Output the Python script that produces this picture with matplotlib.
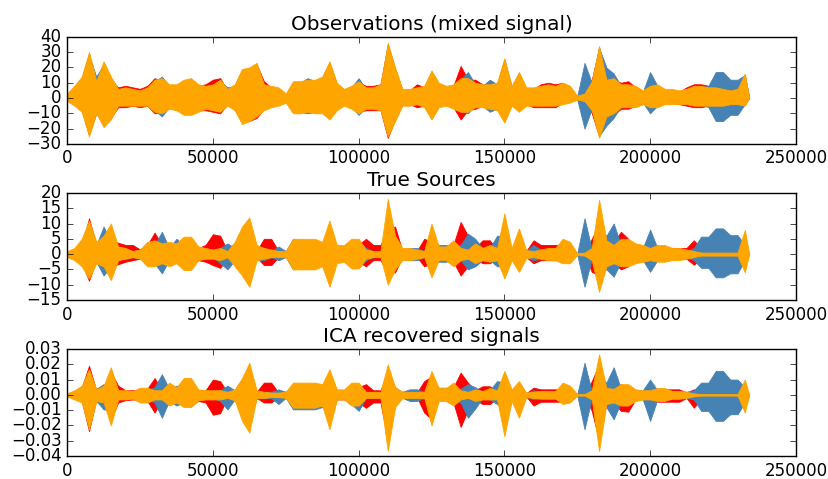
import numpy as np
import matplotlib
matplotlib.use('Agg')
import matplotlib.pyplot as plt

# sample index of every envelope reading (one reading each 2500 samples, signal ends at 234000)
samples = np.append(np.arange(94) * 2500, 234000)

# --- Observations (mixed signal): upper / lower envelope per channel ---
obs_org_hi = [3, 8, 14, 30, 11, 24, 14, 6, 7, 6,
              5, 7, 12, 13, 9, 9, 12, 13, 9, 8,
              9, 12, 6, 9, 19, 20, 23, 9, 8, 7,
              3, 11, 11, 12, 12, 14, 24, 10, 6, 8,
              11, 7, 7, 9, 36, 20, 6, 6, 7, 8,
              18, 10, 8, 9, 13, 13, 10, 9, 9, 10,
              26, 8, 17, 7, 7, 8, 9, 8, 10, 8,
              1.5, 3, 11, 34, 12, 13, 9, 9, 8, 5,
              8, 9, 6, 6, 5, 6, 8, 8, 7, 7,
              6, 5, 6, 16, 0]
obs_org_lo = [-2, -5, -9, -25, -10, -19, -14, -5, -5, -5,
              -5, -5, -9, -10, -7, -8, -11, -11, -9, -7,
              -8, -9, -5, -8, -17, -15, -12, -8, -6, -5,
              -3, -10, -10, -9, -10, -10, -14, -8, -5, -7,
              -10, -7, -7, -8, -25, -15, -5, -5, -4, -6,
              -14, -6, -5, -7, -9, -9, -6, -6, -7, -8,
              -16, -5, -9, -5, -5, -5, -5, -5, -4, -3,
              -1, -2, -8, -26, -12, -10, -6, -6, -6, -4,
              -6, -6, -4, -4, -4, -4, -5, -5, -5, -5,
              -5, -4, -4, -5, 0]
obs_red_hi = [2, 7, 13, 29, 10, 20, 12, 7, 8, 7,
              6, 8, 13, 11, 8, 8, 11, 12, 8, 9,
              12, 13, 5, 8, 18, 19, 22, 11, 7, 6,
              2, 10, 10, 11, 11, 13, 23, 9, 5, 7,
              10, 8, 8, 9, 35, 19, 5, 5, 9, 7,
              17, 9, 7, 8, 21, 12, 12, 9, 8, 9,
              25, 7, 16, 6, 6, 9, 10, 9, 10, 7,
              1, 2, 12, 33, 13, 12, 10, 11, 7, 4,
              7, 8, 5, 5, 4, 7, 9, 9, 8, 6,
              5, 4, 5, 15, 0]
obs_red_lo = [-1, -4, -8, -24, -9, -18, -13, -6, -6, -5,
              -6, -5, -10, -9, -6, -7, -10, -10, -8, -8,
              -9, -10, -4, -7, -16, -15, -13, -7, -5, -4,
              -2, -9, -9, -8, -9, -9, -13, -7, -4, -6,
              -9, -8, -8, -8, -26, -14, -4, -4, -6, -5,
              -13, -5, -4, -6, -14, -8, -7, -5, -6, -7,
              -15, -4, -8, -4, -6, -6, -6, -6, -3, -2,
              -1, -1, -10, -25, -13, -11, -7, -7, -5, -3,
              -5, -5, -3, -3, -4, -5, -6, -6, -5, -4,
              -4, -3, -3, -4, 0]
obs_blu_hi = [2, 7, 13, 28, 14, 22, 13, 5, 6, 5,
              4, 6, 11, 14, 8, 8, 11, 12, 8, 7,
              8, 11, 7, 8, 18, 19, 22, 8, 7, 6,
              2, 10, 10, 13, 11, 13, 23, 9, 5, 7,
              13, 6, 6, 8, 35, 19, 5, 5, 6, 7,
              17, 9, 7, 8, 12, 17, 9, 8, 12, 9,
              25, 7, 16, 6, 6, 7, 8, 7, 9, 7,
              1, 23, 10, 33, 20, 16, 8, 8, 7, 4,
              17, 8, 5, 5, 4, 5, 7, 7, 8, 17,
              17, 12, 12, 15, 0]
obs_blu_lo = [-1, -4, -8, -24, -10, -17, -13, -4, -4, -4,
              -4, -4, -8, -12, -6, -7, -10, -10, -8, -6,
              -7, -8, -4, -7, -16, -14, -11, -7, -5, -4,
              -2, -9, -9, -10, -9, -9, -13, -7, -4, -6,
              -11, -6, -6, -7, -24, -14, -4, -4, -3, -5,
              -13, -5, -4, -6, -8, -10, -5, -5, -9, -7,
              -15, -4, -8, -4, -4, -4, -4, -4, -3, -2,
              -1, -20, -7, -25, -18, -13, -5, -5, -5, -3,
              -10, -5, -3, -3, -3, -3, -4, -4, -6, -15,
              -15, -11, -11, -4, 0]

# --- True Sources ---
src_org_hi = [1, 2, 5, 11, 4, 6, 10, 2.5, 2, 1,
              1.5, 4, 4.5, 3.5, 4, 3.5, 5.7, 5.7, 2.5, 2,
              1.5, 2, 1, 4, 9, 12, 3, 2, 1.5, 1,
              1, 5, 5, 5, 5, 4, 11, 3, 3, 5,
              5, 1.5, 1, 1, 18, 6, 2, 2, 1.5, 1,
              10, 2.5, 2.5, 4.5, 2, 1.5, 3.5, 2, 3, 2,
              13.3, 2, 8.4, 1.3, 1, 1.5, 2, 2, 5, 4,
              0.3, 0.5, 2, 17.7, 4.5, 3, 5, 5, 3.5, 3,
              2, 3, 3, 2, 2, 1.5, 1, 0.5, 0.5, 0.5,
              0.5, 0.5, 0.5, 7.9, 0]
src_org_lo = [-1, -2, -4, -8, -3, -4, -8.5, -2, -1.5, -1,
              -1.5, -4, -4, -3, -4, -3, -5.2, -5.2, -2, -1.5,
              -1.5, -2, -1, -4, -7, -10.7, -2, -1.5, -1, -1,
              -1, -5, -5, -5, -5, -4, -10.7, -3, -2.5, -4.7,
              -4.7, -1.5, -1, -1, -10, -5, -2, -2, -1.5, -1,
              -7.6, -2, -2, -4, -2, -1.5, -3, -2, -2.5, -2,
              -8, -2, -5.8, -1.3, -1, -1.5, -2, -2, -3, -3,
              -0.3, -0.5, -2, -12.3, -4, -3, -4, -4, -3, -2.5,
              -2, -2.5, -2.5, -2, -2, -1.5, -1, -0.5, -0.5, -0.5,
              -0.5, -0.5, -0.5, -6, 0]
src_red_hi = [0.5, 1.5, 3, 11.7, 3, 3, 5, 3.7, 3, 3,
              1.5, 3, 7, 3, 2, 2, 3, 3, 2, 3,
              6.5, 6, 1, 3, 7.3, 6, 1, 5, 5, 1,
              0.5, 2, 3, 3, 3.5, 3, 7, 2, 2, 3,
              3, 5, 3, 3, 8, 9, 1, 1, 1, 5,
              4, 1.5, 1.5, 3, 10.5, 6, 2, 4.5, 4.5, 1.5,
              7, 1, 4, 1, 4.5, 3, 3, 3, 3, 2,
              0.2, 0.3, 5, 10, 3, 4, 7.3, 5, 2, 1.5,
              1.5, 2, 2, 2, 2, 2, 4.5, 2, 4, 1,
              0.5, 0.5, 0.5, 3, 0]
src_red_lo = [-0.5, -1.5, -3, -8.7, -2, -3, -4, -3.3, -2.5, -2,
              -1.5, -2, -3.3, -2, -2, -2, -3, -3, -2, -2.5,
              -3.6, -4.5, -1, -2.5, -4.7, -5, -1, -3.6, -3.6, -1,
              -0.5, -2, -2.5, -2.5, -3, -2.5, -6, -2, -1.5, -2.5,
              -2.5, -4, -2, -2, -6, -6, -1, -1, -1, -4,
              -3, -1.5, -1.5, -2.5, -7, -4, -1.5, -3, -3, -1.5,
              -5, -1, -3, -1, -3, -2, -2, -2, -2, -1.5,
              -0.2, -0.3, -5.8, -7, -2.5, -3, -5, -4, -1.5, -1.5,
              -1.5, -1.5, -1.5, -1.5, -1.5, -1.5, -3.5, -1.5, -2, -1,
              -0.5, -0.5, -0.5, -2, 0]
src_blu_hi = [0.5, 1.5, 2, 4, 3, 9, 4, 1.5, 1.5, 1,
              1.5, 2, 3, 7.3, 2, 5, 3, 3, 1.5, 1,
              1, 2, 3.5, 2, 3, 5, 2, 2, 1, 2.5,
              1, 5, 4.5, 4.5, 4.5, 3.5, 6, 2, 2, 3,
              4, 2, 1, 1, 6, 4, 1.5, 2, 2, 1,
              4, 3, 3, 2, 3, 6.7, 5, 2, 2, 6,
              6, 1.5, 4, 1, 3, 1.5, 1.5, 1.5, 2, 2,
              0.2, 11.7, 1.5, 8, 6, 10, 3, 3, 2, 2,
              8, 2, 1.5, 1.5, 1.5, 1, 2, 5.7, 5.7, 8.4,
              8.4, 6.2, 6.2, 3, 0]
src_blu_lo = [-0.5, -1.5, -2, -4, -2.5, -7, -4, -1.5, -1.5, -1,
              -1.5, -2, -3, -6.3, -2, -3, -3, -3, -1.5, -1,
              -1, -3, -5, -2, -3, -5, -2, -2, -1, -2,
              -1, -5, -4.5, -4.5, -4.5, -3.5, -5, -2, -2, -3,
              -4.5, -2, -1, -1, -5, -3, -1.5, -2, -2, -1,
              -3, -2.5, -2.5, -2, -2, -5, -4, -2, -2, -4,
              -4, -1.5, -3, -1, -2, -1.5, -1.5, -1.5, -1.5, -1.5,
              -0.2, -10.7, -1.5, -6, -5, -7.4, -2.5, -2.5, -2, -2,
              -5.8, -2, -1.5, -1.5, -1.5, -1, -2, -4.5, -4.5, -7.6,
              -7.6, -6.3, -6.3, -2, 0]

# --- ICA recovered signals, in thousandths ---
ica_org_hi = [1, 3, 6, 16.7, 3.6, 6, 18, 3, 3, 2.5,
              4.7, 4.7, 3, 3, 8, 5, 11, 11, 3.6, 3,
              3, 3, 2, 3.6, 11, 21, 3, 2, 1.5, 1.5,
              2, 8, 8, 8, 8, 7, 16.7, 3.6, 3.6, 8,
              8, 2, 2, 2, 20, 5, 2, 2, 2, 2,
              15.6, 4.5, 4.5, 8, 3, 2, 3.6, 2.5, 4.5, 3,
              15.6, 3.6, 9, 1.5, 2, 2.5, 2.5, 2.5, 8, 6,
              0.5, 0.5, 3, 26.5, 4.5, 4, 7, 7, 3.6, 3,
              3, 4.5, 4.5, 2.5, 2.5, 2, 1, 0.5, 0.5, 0.5,
              0.5, 0.5, 0.5, 10, 0]
ica_org_lo = [-1, -3, -5, -22.5, -4, -5, -20, -3, -3, -2.5,
              -5, -5, -3, -3, -7, -5, -8, -8, -3.6, -3,
              -3, -3, -2, -3.6, -17, -24.7, -2, -2, -1.5, -1.5,
              -2, -8.4, -8.4, -8.4, -8.4, -7, -22.5, -3, -3, -7,
              -7, -2, -2, -2, -36.7, -8, -2, -2, -2, -2,
              -20, -4, -4, -7, -3, -2, -4, -3, -3, -3,
              -27, -4, -15, -1.5, -2, -2.5, -2.5, -2.5, -6, -5,
              -0.5, -0.5, -3, -36.7, -6, -5, -7, -7, -4, -3,
              -3, -4, -4, -2.5, -2.5, -2, -1, -0.5, -0.5, -0.5,
              -0.5, -0.5, -0.5, -11.6, 0]
ica_red_hi = [1, 2, 5, 19, 3, 5, 15, 6, 3, 3,
              3, 4, 11, 3, 5, 4, 8, 8, 3, 3,
              10, 9, 1.5, 3, 10, 15, 2, 8, 8, 1.5,
              1, 5, 5, 5, 5, 5, 14, 3, 3, 5,
              5, 7, 3, 3, 15, 5, 1.5, 1.5, 1.5, 9,
              12, 3, 3, 5, 14.5, 8, 3, 5.6, 5.6, 2,
              12, 2, 7, 1, 4.7, 3.6, 3.6, 3.6, 3.6, 3,
              0.3, 0.3, 9, 20, 3, 4, 7, 5, 2.5, 2,
              2, 3.6, 3.6, 3.6, 3.6, 1.5, 3.6, 2, 3, 1,
              0.5, 0.5, 0.5, 6, 0]
ica_red_lo = [-1, -2, -4, -23.7, -3, -4, -16, -5, -3.5, -3,
              -3.5, -4, -11.6, -3, -5, -4, -7, -7, -4, -5,
              -13, -12, -1.5, -3, -14, -18, -2, -5, -5, -1.5,
              -1, -6, -6, -6, -6, -6, -18, -3, -3, -5,
              -5, -8.5, -5, -5, -30, -7, -1.5, -1.5, -1.5, -11.6,
              -16, -3, -3, -5, -21, -10, -3, -6, -6, -2,
              -22, -3, -12, -1, -7, -4.5, -4.5, -4.5, -4.5, -4,
              -0.3, -0.3, -10.5, -30, -4, -5, -10.5, -11, -3, -2.5,
              -2.5, -4.5, -4.5, -4.5, -4.5, -2, -8.4, -3, -4, -1,
              -0.5, -0.5, -0.5, -8, 0]
ica_blu_hi = [1, 2, 4, 8, 4, 7, 8, 2, 2, 2,
              2, 3, 5, 13.5, 4, 6, 5, 5, 2, 2,
              2, 3, 6, 3, 5, 8, 2.5, 2, 2, 3.6,
              2, 7, 7, 7, 7, 6, 8, 2.5, 2.5, 5,
              6, 2, 1.5, 1.5, 8, 4, 2, 3.6, 3.6, 2,
              7, 4.7, 4.7, 3, 4, 7, 5, 2, 3, 9,
              8, 2, 5, 1, 3, 2, 2, 2, 3, 3,
              0.3, 21, 2, 12, 8, 18, 4, 4, 3, 3,
              10, 3, 2.5, 2.5, 2.5, 2, 3, 8, 8, 15.6,
              15.6, 10, 10, 5, 0]
ica_blu_lo = [-1, -2, -4, -10, -4, -9.5, -10, -2, -2, -2,
              -2, -3, -5, -15, -4, -7, -5, -5, -2, -2,
              -2, -4, -9.5, -3, -6, -10, -2.5, -2, -2, -6,
              -2, -9.5, -9.5, -9.5, -9.5, -8, -10, -2.5, -2.5, -6,
              -10.5, -2, -1.5, -1.5, -12, -5, -2, -4, -4, -2,
              -8, -3, -3, -3, -5, -15, -9, -2, -3, -6,
              -10, -2, -6, -1, -3, -2, -2, -2, -3, -3,
              -0.3, -22.5, -2, -15, -8, -16, -5, -5, -3, -3,
              -17, -3, -2.5, -2.5, -2.5, -2, -3, -10.5, -10.5, -17,
              -17, -12.7, -12.7, -5, 0]

titles = ['Observations (mixed signal)', 'True Sources', 'ICA recovered signals']
colors = ['red', 'steelblue', 'orange']

plt.style.use('classic')
fig = plt.figure(figsize=(8.29, 4.79), dpi=100, facecolor='white')
fig.subplots_adjust(left=0.081, right=0.960, top=0.923, bottom=0.048, hspace=0.458)

panels = [
    ([(obs_red_hi, obs_red_lo), (obs_blu_hi, obs_blu_lo), (obs_org_hi, obs_org_lo)], 1.0),
    ([(src_red_hi, src_red_lo), (src_blu_hi, src_blu_lo), (src_org_hi, src_org_lo)], 1.0),
    ([(ica_red_hi, ica_red_lo), (ica_blu_hi, ica_blu_lo), (ica_org_hi, ica_org_lo)], 1e-3),
]
ylims = [(-30, 40), (-15, 20), (-0.04, 0.03)]
ysteps = [10, 5, 0.01]

for k, (bands, scale) in enumerate(panels):
    ax = fig.add_subplot(3, 1, k + 1)
    for (hi, lo), c in zip(bands, colors):
        ax.fill_between(samples, np.array(lo) * scale, np.array(hi) * scale,
                        color=c, lw=0.6, edgecolor=c)
    ax.set_title(titles[k])
    ax.set_xlim(0, 250000)
    ax.set_xticks(np.arange(0, 250001, 50000))
    ax.set_ylim(*ylims[k])
    ax.set_yticks(np.arange(ylims[k][0], ylims[k][1] + ysteps[k] / 2, ysteps[k]))

plt.savefig('out.png', dpi=100, facecolor='white')
